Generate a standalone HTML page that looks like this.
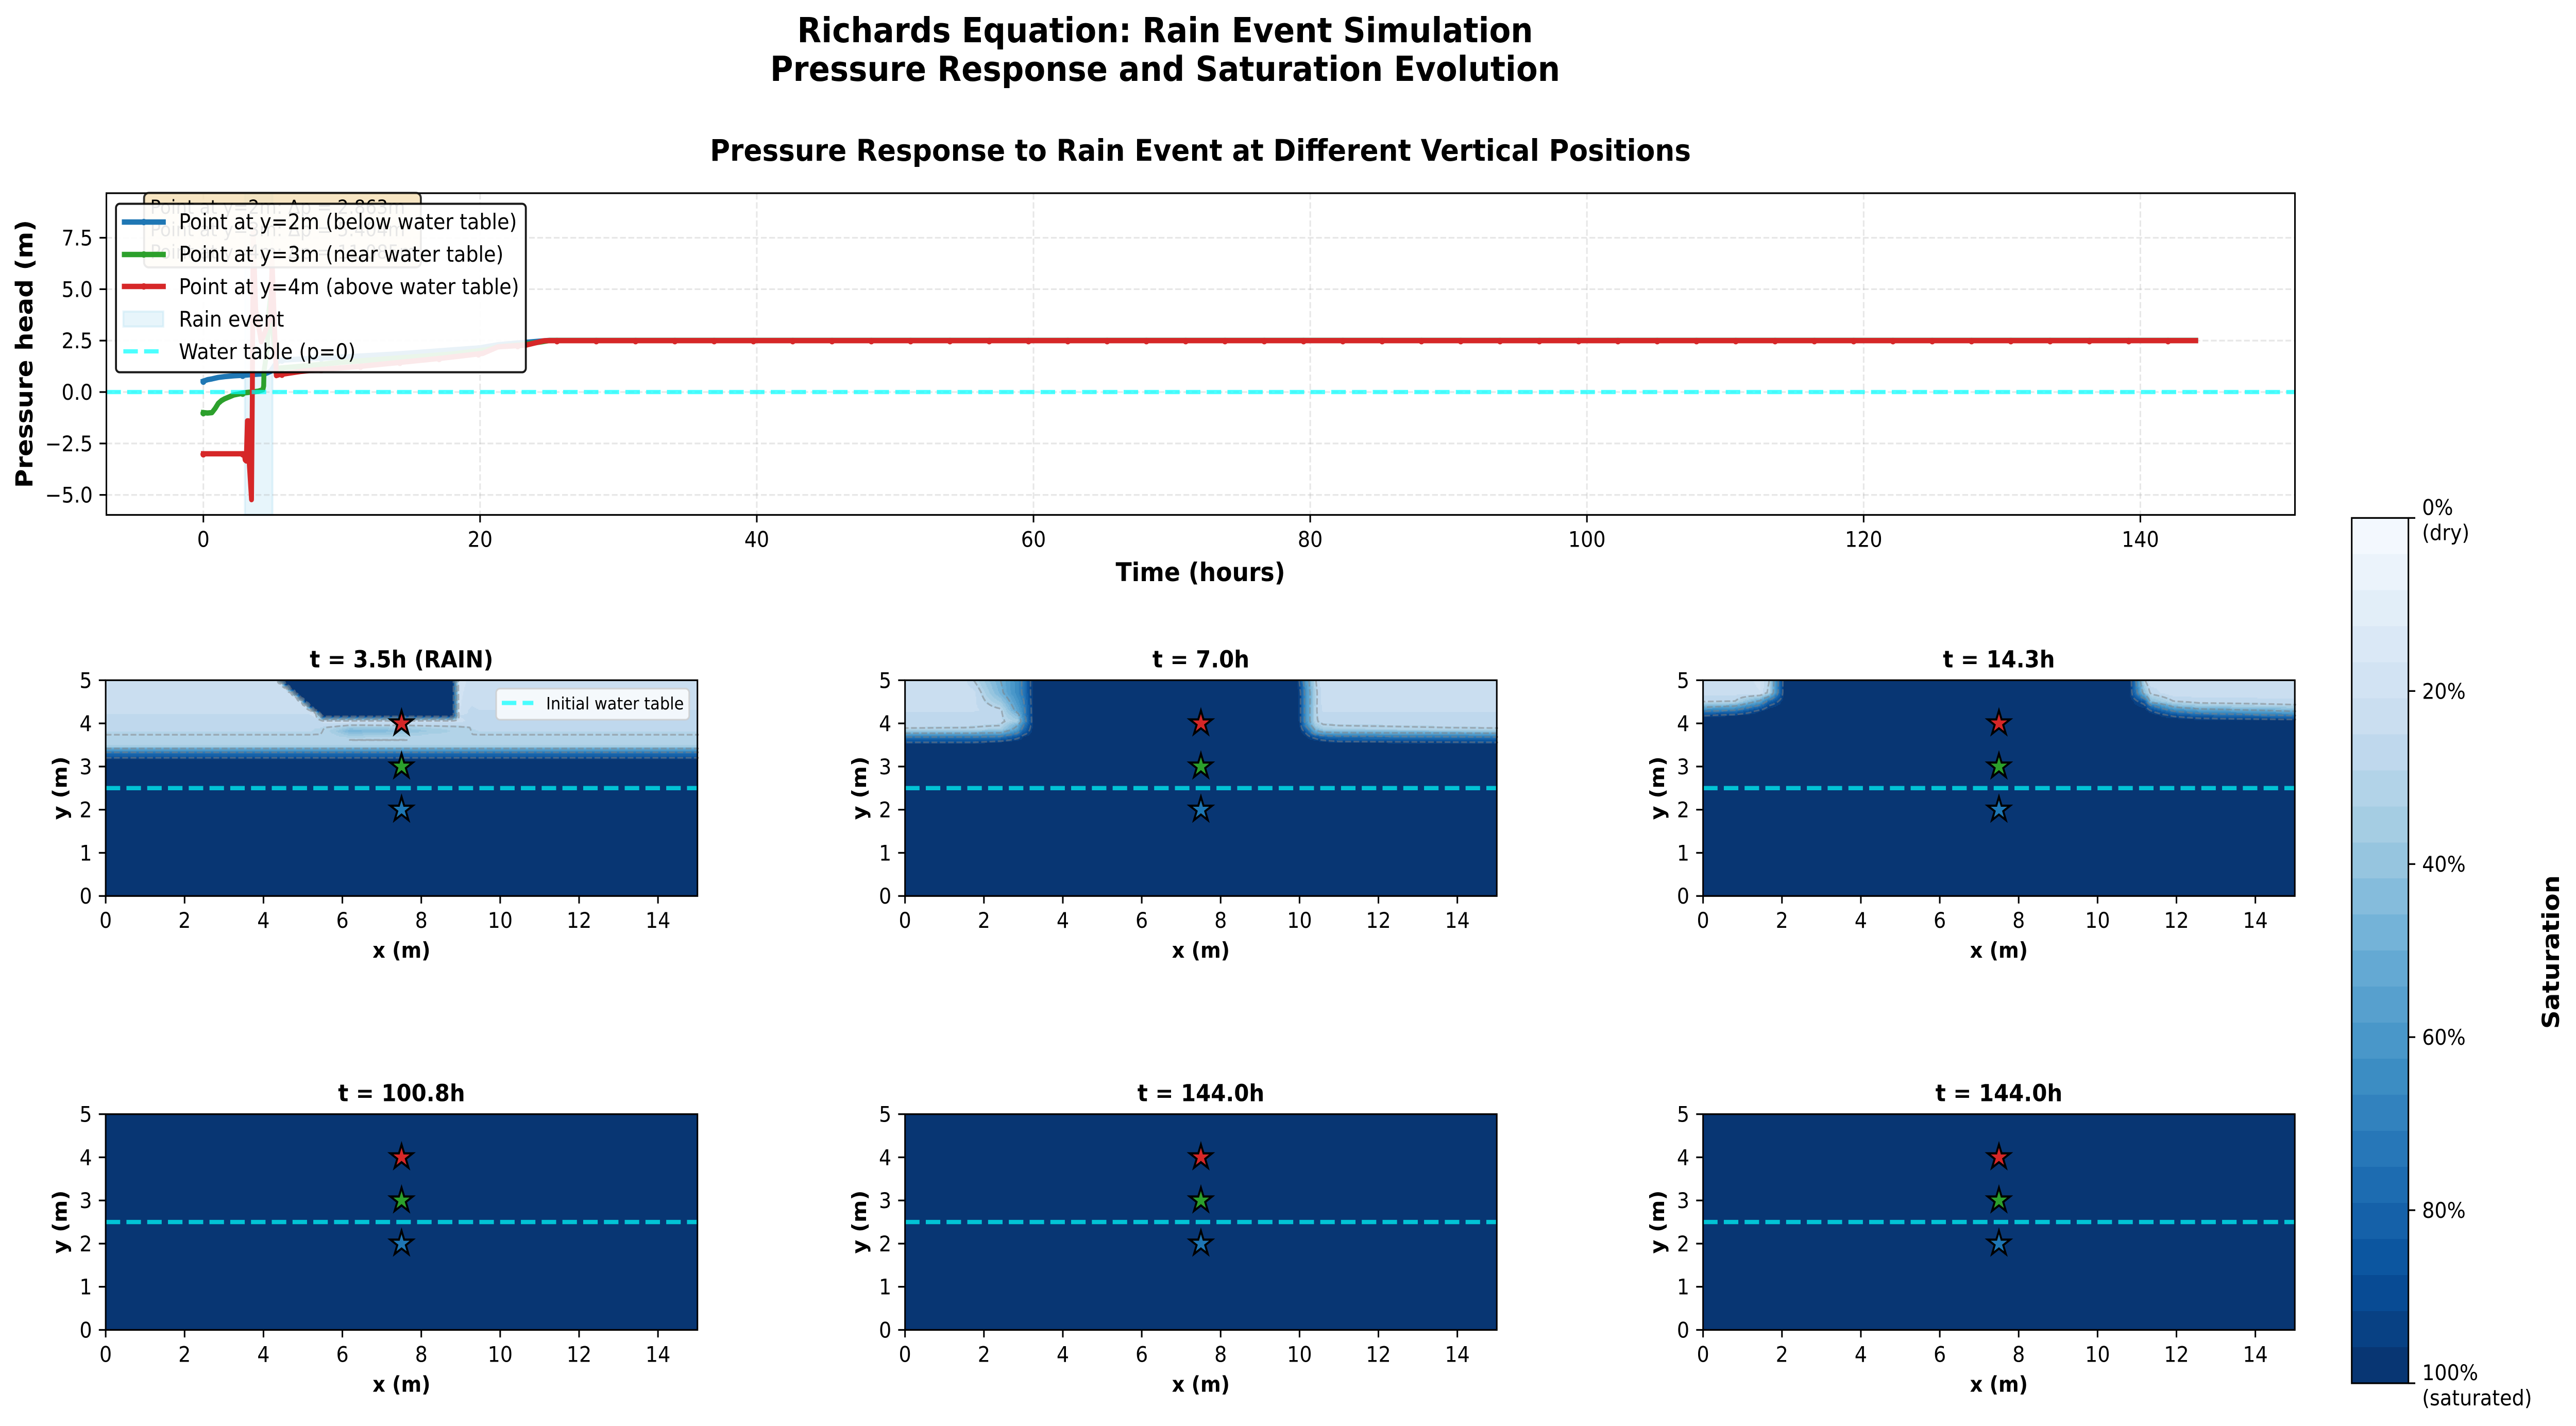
<!DOCTYPE html>
<html lang="en">
<head>
<meta charset="utf-8">
<meta name="viewport" content="width=5472, initial-scale=1">
<title>Richards Equation: Rain Event Simulation</title>
<style>
html,body{margin:0;padding:0;background:#fff;overflow:hidden;width:100%;height:100%;}
svg#fig{display:block;position:absolute;left:0;top:0;width:min(100vw,5472px);height:min(100vh,2768px);overflow:hidden;}
text{font-family:"DejaVu Sans","Liberation Sans",sans-serif;fill:#000;}
.b{font-weight:bold;}
</style>
</head>
<body>
<svg id="fig" xmlns="http://www.w3.org/2000/svg" viewBox="0 0 5472 2768" preserveAspectRatio="none">
  <rect x="0" y="0" width="5472" height="2768" fill="#fff"/>
  <text class="b" x="2475" y="82" font-size="66.67" text-anchor="middle">Richards Equation: Rain Event Simulation</text>
  <text class="b" x="2475" y="157" font-size="66.67" text-anchor="middle">Pressure Response and Saturation Evolution</text>
  <text class="b" x="2550" y="312" font-size="58.33" text-anchor="middle">Pressure Response to Rain Event at Different Vertical Positions</text>

  <g id="pressure-marks"></g>

  <g>
    <rect x="306" y="374.5" width="588" height="144.5" rx="10" ry="10" fill="#f5deb3" fill-opacity="0.8" stroke="#000" stroke-opacity="0.8" stroke-width="4.17"/>
    <text x="319" y="415" font-size="37.5">Point at y=2m: Δp = 2.863m</text>
    <text x="319" y="458.5" font-size="37.5">Point at y=3m: Δp = 5.404m</text>
    <text x="319" y="502" font-size="37.5">Point at y=4m: Δp = 11.085m</text>
  </g>

  <g>
    <rect x="246.4" y="395.6" width="870.6" height="327" rx="8" ry="8" fill="#fff" fill-opacity="0.9" stroke="#000" stroke-opacity="0.9" stroke-width="4.17"/>
    <line x1="264" x2="347" y1="431" y2="431" stroke="#1f77b4" stroke-width="10.4" stroke-linecap="square"/>
    <circle cx="305.5" cy="431" r="6.25" fill="#1f77b4"/>
    <text x="380" y="445" font-size="41.67">Point at y=2m (below water table)</text>
    <line x1="264" x2="347" y1="494" y2="494" stroke="#2ca02c" stroke-width="10.4" stroke-linecap="square"/>
    <circle cx="305.5" cy="494" r="6.25" fill="#2ca02c"/>
    <text x="380" y="508" font-size="41.67">Point at y=3m (near water table)</text>
    <line x1="264" x2="347" y1="556" y2="556" stroke="#d62728" stroke-width="10.4" stroke-linecap="square"/>
    <circle cx="305.5" cy="556" r="6.25" fill="#d62728"/>
    <text x="380" y="571" font-size="41.67">Point at y=4m (above water table)</text>
    <rect x="262" y="604.6" width="85" height="29.4" fill="#87ceeb" fill-opacity="0.2" stroke="#87ceeb" stroke-opacity="0.2" stroke-width="4.17"/>
    <text x="380" y="634" font-size="41.67">Rain event</text>
    <line x1="262" x2="338" y1="682" y2="682" stroke="#00ffff" stroke-opacity="0.7" stroke-width="8.33" stroke-dasharray="30.8 13.3"/>
    <text x="380" y="697" font-size="41.67">Water table (p=0)</text>
  </g>

  <text class="b" x="2550" y="1128" font-size="50" text-anchor="middle">Time (hours)</text>
  <text class="b" transform="translate(69,687) rotate(-90)" font-size="50" text-anchor="middle">Pressure head (m)</text>

  <g id="panels"></g>

  <g>
    <rect x="1054" y="1336.7" width="410" height="60.3" rx="8" ry="8" fill="#fff" fill-opacity="0.8" stroke="#ccc" stroke-opacity="0.8" stroke-width="3.33"/>
    <line x1="1066" x2="1133" y1="1364.5" y2="1364.5" stroke="#00ffff" stroke-opacity="0.7" stroke-width="8.33" stroke-dasharray="30.8 13.3"/>
    <text x="1160" y="1377" font-size="33.33">Initial water table</text>
  </g>

  <g id="colorbar"></g>
  <text class="b" transform="translate(5436,1848) rotate(-90)" font-size="50" text-anchor="middle">Saturation</text>
</svg>

<script>
/* ---------- pressure chart data ---------- */
const timeY2 = [0,0.3,0.62,1.08,1.53,2.2,2.95,3.5,4.2,4.5,4.85,5.3,5.6,7,10,14,17,20,21.3,23,24.8,25,40,60,80,100,120,144];
const pressureY2 = [0.53,0.6,0.64,0.71,0.75,0.79,0.82,0.85,0.88,0.9,1.0,1.45,1.55,1.6,1.7,1.85,2.0,2.15,2.3,2.4,2.5,2.51,2.51,2.51,2.51,2.51,2.51,2.51];

const timeY3 = [0,0.3,0.62,0.85,1.08,1.3,1.53,2.2,2.95,3.97,4.3,4.36,4.38,4.6,4.75,4.85,5.0,5.3,7,10,14,18,20.5,21.3,23,24.5,25,40,60,80,100,120,144];
const pressureY3 = [-1.0,-1.02,-1.0,-0.8,-0.55,-0.42,-0.33,-0.14,-0.04,0.04,0.11,0.3,1.0,2.0,4.0,4.6,3.0,1.15,1.25,1.45,1.65,1.85,2.05,2.2,2.3,2.45,2.505,2.505,2.505,2.505,2.505,2.505,2.505];

const timeY4 = [0,1,2,2.95,3.02,3.1,3.18,3.26,3.3,3.48,3.54,3.6,3.78,4.18,4.85,4.97,5.1,5.27,5.5,7,8,11.35,17.3,20.2,21.3,23.3,24.6,25,40,60,80,100,120,144];
const pressureY4 = [-3,-3,-3,-3,-3.3,-3.35,-1.4,-1.4,-3.3,-5.23,0,8,4.03,2.45,3.6,6.37,4,0.8,0.85,1.0,1.07,1.25,1.65,1.88,2.2,2.28,2.49,2.5,2.5,2.5,2.5,2.5,2.5,2.5];

const timeTicks = [0,20,40,60,80,100,120,140];
const timeTickLabels = ['0','20','40','60','80','100','120','140'];
const pressureTicks = [-5,-2.5,0,2.5,5,7.5];
const pressureTickLabels = ['\u22125.0','\u22122.5','0.0','2.5','5.0','7.5'];
const rainStart = 3;
const rainEnd = 5;
const waterTablePressure = 0;
const markerEveryHours = 2.84;

/* ---------- saturation panels data ---------- */
const panelTitles = ['t = 3.5h (RAIN)','t = 7.0h','t = 14.3h','t = 100.8h','t = 144.0h','t = 144.0h'];
const panelXTicks = [0,2,4,6,8,10,12,14];
const panelYTicks = [0,1,2,3,4,5];
const initialWaterTable = 2.5;
const monitorX = 7.5;
const monitorY = [2,3,4];
const contourLevels = [0.3,0.5,0.7,0.9];

const field1X = [0,4.0,4.34,4.46,4.58,4.70,4.83,4.95,5.07,5.19,5.31,5.44,5.5,5.8,6.2,7.6,8.2,8.8,8.96,9.2,9.3,9.5,15];
const field1Y = [5,4.9,4.8,4.7,4.6,4.5,4.4,4.3,4.25,4.17,4.05,3.97,3.9,3.82,3.74,3.63,3.46,3.42,3.33,3.2,3.15,0];
const field1S = [
[.23,.23,.2,1,1,1,1,1,1,1,1,1,1,1,1,1,1,1,.18,.22,.23,.23,.23],
[.23,.23,.23,.2,1,1,1,1,1,1,1,1,1,1,1,1,1,1,.18,.22,.24,.23,.23],
[.23,.23,.23,.23,.2,1,1,1,1,1,1,1,1,1,1,1,1,1,.18,.23,.24,.23,.23],
[.23,.23,.23,.23,.23,.2,1,1,1,1,1,1,1,1,1,1,1,1,.19,.23,.24,.23,.23],
[.23,.23,.23,.23,.23,.23,.2,1,1,1,1,1,1,1,1,1,1,1,.19,.24,.25,.23,.23],
[.23,.23,.23,.23,.23,.23,.23,.2,1,1,1,1,1,1,1,1,1,1,.2,.24,.25,.23,.23],
[.23,.23,.23,.23,.23,.23,.23,.23,.2,1,1,1,1,1,1,1,1,1,.2,.24,.25,.24,.24],
[.24,.24,.24,.24,.24,.24,.24,.24,.24,.2,1,1,1,1,1,1,1,1,.2,.25,.26,.25,.25],
[.24,.24,.24,.24,.24,.24,.24,.24,.24,.23,.22,1,1,1,1,1,1,1,.2,.25,.26,.25,.25],
[.27,.27,.27,.27,.27,.27,.27,.27,.27,.26,.24,.45,1,1,1,1,1,1,.25,.27,.27,.27,.27],
[.27,.27,.27,.27,.27,.27,.27,.27,.27,.27,.26,.25,.23,.22,.22,.22,.22,.22,.23,.26,.27,.27,.27],
[.28,.28,.28,.28,.28,.28,.28,.28,.28,.28,.28,.28,.27,.26,.28,.28,.28,.28,.28,.27,.28,.28,.28],
[.285,.285,.285,.285,.285,.285,.285,.285,.285,.285,.29,.29,.295,.32,.38,.36,.33,.315,.31,.305,.29,.285,.285],
[.29,.29,.29,.29,.29,.29,.29,.29,.29,.29,.295,.295,.30,.36,.47,.42,.37,.33,.32,.31,.295,.29,.29],
[.30,.30,.30,.30,.30,.30,.30,.30,.30,.30,.30,.30,.305,.33,.40,.36,.33,.32,.31,.305,.30,.30,.30],
[.31,.31,.31,.31,.31,.31,.31,.31,.31,.31,.31,.31,.31,.31,.295,.295,.31,.31,.31,.31,.31,.31,.31],
[.34,.34,.34,.34,.34,.34,.34,.34,.34,.34,.34,.34,.34,.34,.34,.34,.34,.34,.34,.34,.34,.34,.34],
[.5,.5,.5,.5,.5,.5,.5,.5,.5,.5,.5,.5,.5,.5,.5,.5,.5,.5,.5,.5,.5,.5,.5],
[.7,.7,.7,.7,.7,.7,.7,.7,.7,.7,.7,.7,.7,.7,.7,.7,.7,.7,.7,.7,.7,.7,.7],
[.9,.9,.9,.9,.9,.9,.9,.9,.9,.9,.9,.9,.9,.9,.9,.9,.9,.9,.9,.9,.9,.9,.9],
[1,1,1,1,1,1,1,1,1,1,1,1,1,1,1,1,1,1,1,1,1,1,1],
[1,1,1,1,1,1,1,1,1,1,1,1,1,1,1,1,1,1,1,1,1,1,1]
];

const field2X = [0,1.5,1.74,2.42,2.85,3.0,3.28,3.4,9.9,10.0,10.15,10.41,10.6,11,15];
const field2Y = [5,4.7,4.3,4.2,4.05,3.95,3.87,3.77,3.69,3.56,3.5,0];
const field2S = [
[.23,.23,.30,.50,.65,.72,1,1,1,.9,.6,.30,.22,.23,.23],
[.23,.23,.23,.47,.65,.72,1,1,1,.95,.65,.32,.22,.23,.23],
[.24,.24,.24,.28,.55,.65,1,1,1,.95,.65,.31,.24,.24,.24],
[.27,.27,.27,.28,.45,.65,1,1,1,.95,.65,.31,.26,.27,.27],
[.27,.27,.27,.28,.35,.60,1,1,1,.95,.65,.31,.27,.27,.27],
[.28,.285,.29,.30,.50,.70,1,1,1,.97,.7,.36,.31,.30,.28],
[.30,.31,.31,.34,.55,.75,1,1,1,.98,.8,.45,.36,.33,.30],
[.50,.50,.50,.52,.70,.85,1,1,1,1,.92,.6,.55,.53,.50],
[.70,.70,.70,.72,.85,.95,1,1,1,1,.97,.85,.78,.74,.70],
[.90,.90,.90,.95,1,1,1,1,1,1,1,1,.97,.93,.90],
[1,1,1,1,1,1,1,1,1,1,1,1,1,1,1],
[1,1,1,1,1,1,1,1,1,1,1,1,1,1,1]
];

const field3X = [0,0.8,1.45,1.68,2.08,10.8,11.2,11.35,11.95,12.6,15];
const field3Y = [5,4.7,4.5,4.4,4.28,4.18,4.1,4.04,0];
const field3S = [
[.23,.23,.20,.30,1,1,.30,.22,.23,.23,.23],
[.23,.23,.21,.33,1,1,.42,.28,.21,.23,.23],
[.29,.30,.55,.80,1,1,.85,.45,.30,.27,.26],
[.45,.50,.75,.92,1,1,.93,.75,.45,.38,.32],
[.70,.75,.95,1,1,1,1,.92,.70,.60,.50],
[.90,.95,1,1,1,1,1,1,.88,.80,.70],
[1,1,1,1,1,1,1,1,.97,.93,.88],
[1,1,1,1,1,1,1,1,1,1,1],
[1,1,1,1,1,1,1,1,1,1,1]
];

const field4X = [0,15];
const field4Y = [5,0];
const field4S = [[1,1],[1,1]];
const field5X = [0,15];
const field5Y = [5,0];
const field5S = [[1,1],[1,1]];
const field6X = [0,15];
const field6Y = [5,0];
const field6S = [[1,1],[1,1]];

/* ---------- colorbar data ---------- */
const bandCount = 24;
const colorbarTicks = [0,0.2,0.4,0.6,0.8,1];
const colorbarTickLabels = [['0%','(dry)'],['20%'],['40%'],['60%'],['80%'],['100%','(saturated)']];
const bluesAnchors = [[247,251,255],[222,235,247],[198,219,239],[158,202,225],[107,174,214],[66,146,198],[33,113,181],[8,81,156],[8,48,107]];

/* ---------- helpers ---------- */
const NS = 'http://www.w3.org/2000/svg';
function mk(tag, attrs, parent) {
  const n = document.createElementNS(NS, tag);
  for (const k in attrs) n.setAttribute(k, attrs[k]);
  parent.appendChild(n);
  return n;
}
function blues(t) {
  const p = Math.min(0.999999, Math.max(0, t)) * 8;
  const i = Math.floor(p), f = p - i;
  const a = bluesAnchors[i], b = bluesAnchors[i + 1];
  return 'rgb(' + [0,1,2].map(c => Math.round(a[c] + (b[c] - a[c]) * f)).join(',') + ')';
}
function bandOf(s) { return Math.max(0, Math.min(bandCount - 1, Math.floor(s * bandCount))); }
function bandColor(i) { return blues((i + 0.5) / bandCount); }

/* ---------- pressure chart ---------- */
const px = h => 432 + 29.39 * h;
const py = p => 761 - 39.93 * p;
const AX = {l: 226, r: 4875, t: 375, b: 999.5};
const pm = document.getElementById('pressure-marks');

const rain = mk('rect', {x: px(rainStart), y: AX.t, width: px(rainEnd) - px(rainStart), height: AX.b - AX.t, fill: '#87ceeb', 'fill-opacity': 0.2, stroke: '#87ceeb', 'stroke-opacity': 0.2, 'stroke-width': 4.17}, pm);



timeTicks.forEach((v, i) => {
  const g = mk('line', {x1: px(v), x2: px(v), y1: AX.t, y2: AX.b, stroke: '#b0b0b0', 'stroke-opacity': 0.3, 'stroke-width': 3.33, 'stroke-dasharray': '12.3 5.3'}, pm);
  
  
});
pressureTicks.forEach((v, i) => {
  const g = mk('line', {x1: AX.l, x2: AX.r, y1: py(v), y2: py(v), stroke: '#b0b0b0', 'stroke-opacity': 0.3, 'stroke-width': 3.33, 'stroke-dasharray': '12.3 5.3'}, pm);
  
  
});

function interp(ts, vs, t) {
  for (let i = 1; i < ts.length; i++) {
    if (t <= ts[i]) return vs[i - 1] + (vs[i] - vs[i - 1]) * (t - ts[i - 1]) / (ts[i] - ts[i - 1]);
  }
  return vs[vs.length - 1];
}
function drawSeries(ts, vs, color, name) {
  const d = ts.map((t, i) => (i ? 'L' : 'M') + px(t).toFixed(2) + ' ' + py(vs[i]).toFixed(2)).join('');
  const line = mk('path', {d: d, fill: 'none', stroke: color, 'stroke-width': 10.4, 'stroke-linejoin': 'round', 'stroke-linecap': 'square'}, pm);
  
  
  const last = ts[ts.length - 1];
  for (let k = 0; k * markerEveryHours <= last; k++) {
    const t = k * markerEveryHours;
    const m = mk('circle', {cx: px(t), cy: py(interp(ts, vs, t)) + 1, r: 6.25, fill: color}, pm);
    
    
  }
}
drawSeries(timeY2, pressureY2, '#1f77b4', 'pressure-y2');
drawSeries(timeY3, pressureY3, '#2ca02c', 'pressure-y3');
drawSeries(timeY4, pressureY4, '#d62728', 'pressure-y4');

const wt = mk('line', {x1: AX.l, x2: AX.r, y1: py(waterTablePressure), y2: py(waterTablePressure), stroke: '#00ffff', 'stroke-opacity': 0.7, 'stroke-width': 8.33, 'stroke-dasharray': '30.8 13.3'}, pm);



const mainFrame = mk('rect', {x: AX.l, y: AX.t, width: AX.r - AX.l, height: AX.b - AX.t, fill: 'none', stroke: '#000', 'stroke-width': 3.33}, pm);



timeTicks.forEach((v, i) => {
  const t = mk('line', {x1: px(v), x2: px(v), y1: AX.b, y2: AX.b + 14.6, stroke: '#000', 'stroke-width': 3.33}, pm);
  
  
  const l = mk('text', {x: px(v), y: AX.b + 62, 'font-size': 41.67, 'text-anchor': 'middle'}, pm);
  
  
  l.textContent = timeTickLabels[i];
});
pressureTicks.forEach((v, i) => {
  const t = mk('line', {x1: AX.l - 14.6, x2: AX.l, y1: py(v), y2: py(v), stroke: '#000', 'stroke-width': 3.33}, pm);
  
  
  const l = mk('text', {x: AX.l - 29, y: py(v) + 15, 'font-size': 41.67, 'text-anchor': 'end'}, pm);
  
  
  l.textContent = pressureTickLabels[i];
});

/* ---------- saturation panels ---------- */
const panelLefts = [224.5, 1922.5, 3617.7, 224.5, 1922.5, 3617.7];
const panelTops = [1320.4, 1320.4, 1320.4, 2162.7, 2162.7, 2162.7];
const PW = 1257, PH = 418.8;
const panelsRoot = document.getElementById('panels');

function segIndexAsc(a, v) {
  let i = 0;
  while (i < a.length - 2 && v > a[i + 1]) i++;
  return i;
}
function segIndexDesc(a, v) {
  let i = 0;
  while (i < a.length - 2 && v < a[i + 1]) i++;
  return i;
}
function sample(X, Y, S, x, y) {
  const i = segIndexAsc(X, x), j = segIndexDesc(Y, y);
  const fx = Math.max(0, Math.min(1, (x - X[i]) / (X[i + 1] - X[i])));
  const fy = Math.max(0, Math.min(1, (Y[j] - y) / (Y[j] - Y[j + 1])));
  const a = S[j][i] + (S[j][i + 1] - S[j][i]) * fx;
  const b = S[j + 1][i] + (S[j + 1][i + 1] - S[j + 1][i]) * fx;
  return a + (b - a) * fy;
}

function drawField(g, X, Y, S, left, top) {
  const step = 2;
  const x0 = Math.floor(left), y0 = Math.floor(top);
  const nx = Math.ceil(PW / step), ny = Math.ceil(PH / step);
  const paths = {};
  for (let r = 0; r < ny; r++) {
    const ym = 5 - (r + 0.5) * step / PH * 5;
    let start = 0, cur = bandOf(sample(X, Y, S, 0.5 * step / PW * 15, ym));
    for (let c = 1; c <= nx; c++) {
      const b = c < nx ? bandOf(sample(X, Y, S, (c + 0.5) * step / PW * 15, ym)) : -1;
      if (b !== cur) {
        paths[cur] = (paths[cur] || '') + 'M' + (x0 + start * step) + ' ' + (y0 + r * step) + 'h' + ((c - start) * step) + 'v' + step + 'h' + (-(c - start) * step) + 'z';
        start = c; cur = b;
      }
    }
  }
  Object.keys(paths).forEach(k => {
    const p = mk('path', {d: paths[k], fill: bandColor(+k), 'shape-rendering': 'crispEdges'}, g);
    
    
  });
}

function drawContours(g, X, Y, S, left, top) {
  const step = 4;
  const nx = Math.ceil(PW / step), ny = Math.ceil(PH / step);
  const val = (c, r) => sample(X, Y, S, Math.min(15, c * step / PW * 15), Math.max(0, 5 - r * step / PH * 5));
  const grid = [];
  for (let r = 0; r <= ny; r++) {
    const row = [];
    for (let c = 0; c <= nx; c++) row.push(val(c, r));
    grid.push(row);
  }
  contourLevels.forEach(level => {
    const pts = {}, adj = {};
    const link = (a, b) => { (adj[a] = adj[a] || []).push(b); (adj[b] = adj[b] || []).push(a); };
    for (let r = 0; r < ny; r++) for (let c = 0; c < nx; c++) {
      const a = grid[r][c], b = grid[r][c + 1], d = grid[r + 1][c], e = grid[r + 1][c + 1];
      const code = (a >= level ? 8 : 0) + (b >= level ? 4 : 0) + (e >= level ? 2 : 0) + (d >= level ? 1 : 0);
      if (code === 0 || code === 15) continue;
      const T = 'h' + r + '_' + c, B = 'h' + (r + 1) + '_' + c, L = 'v' + r + '_' + c, R = 'v' + r + '_' + (c + 1);
      if ((a >= level) !== (b >= level)) pts[T] = [c + (level - a) / (b - a), r];
      if ((d >= level) !== (e >= level)) pts[B] = [c + (level - d) / (e - d), r + 1];
      if ((a >= level) !== (d >= level)) pts[L] = [c, r + (level - a) / (d - a)];
      if ((b >= level) !== (e >= level)) pts[R] = [c + 1, r + (level - b) / (e - b)];
      const table = {1:[[L,B]],2:[[B,R]],3:[[L,R]],4:[[T,R]],5:[[L,T],[B,R]],6:[[T,B]],7:[[L,T]],8:[[L,T]],9:[[T,B]],10:[[T,R],[L,B]],11:[[T,R]],12:[[L,R]],13:[[B,R]],14:[[L,B]]};
      table[code].forEach(s => link(s[0], s[1]));
    }
    const seen = {};
    const walk = startKey => {
      const chain = [startKey];
      seen[startKey] = true;
      let cur = startKey;
      for (;;) {
        const nxt = (adj[cur] || []).find(k => !seen[k]);
        if (!nxt) break;
        seen[nxt] = true;
        chain.push(nxt);
        cur = nxt;
      }
      return chain;
    };
    let d = '';
    const toD = chain => chain.map((k, i) => (i ? 'L' : 'M') + (left + pts[k][0] * step).toFixed(1) + ' ' + (top + pts[k][1] * step).toFixed(1)).join('');
    Object.keys(adj).filter(k => adj[k].length === 1).forEach(k => { if (!seen[k]) d += toD(walk(k)); });
    Object.keys(adj).forEach(k => { if (!seen[k]) d += toD(walk(k)) + 'z'; });
    if (d) {
      const p = mk('path', {d: d, fill: 'none', stroke: '#808080', 'stroke-opacity': 0.5, 'stroke-width': 3.33, 'stroke-dasharray': '12.3 5.3'}, g);
      
      
    }
  });
}

function starPoints(cx, cy, R) {
  const pts = [];
  for (let i = 0; i < 10; i++) {
    const r = i % 2 ? R * 0.381966 : R;
    const a = -Math.PI / 2 + i * Math.PI / 5;
    pts.push((cx + r * Math.cos(a)).toFixed(2) + ',' + (cy + r * Math.sin(a)).toFixed(2));
  }
  return pts.join(' ');
}
const starColors = ['#1f77b4', '#2ca02c', '#d62728'];
const fieldXs = [field1X, field2X, field3X, field4X, field5X, field6X];
const fieldYs = [field1Y, field2Y, field3Y, field4Y, field5Y, field6Y];
const fieldSs = [field1S, field2S, field3S, field4S, field5S, field6S];

panelTitles.forEach((title, idx) => {
  const left = panelLefts[idx], top = panelTops[idx];
  const sx = m => left + m / 15 * PW;
  const sy = m => top + PH - m / 5 * PH;
  const g = mk('g', {}, panelsRoot);
  
  

  drawField(g, fieldXs[idx], fieldYs[idx], fieldSs[idx], left, top);
  drawContours(g, fieldXs[idx], fieldYs[idx], fieldSs[idx], left, top);

  const wl = mk('line', {x1: left, x2: left + PW, y1: sy(initialWaterTable), y2: sy(initialWaterTable), stroke: '#00ffff', 'stroke-opacity': 0.7, 'stroke-width': 8.33, 'stroke-dasharray': '30.8 13.3'}, g);
  
  

  monitorY.forEach((my, i) => {
    const s = mk('polygon', {points: starPoints(sx(monitorX), sy(my), 25), fill: starColors[i], stroke: '#000', 'stroke-width': 4.17, 'stroke-linejoin': 'miter', 'stroke-miterlimit': 10}, g);
    
    
  });

  const frame = mk('rect', {x: left, y: top, width: PW, height: PH, fill: 'none', stroke: '#000', 'stroke-width': 3.33}, g);
  
  

  panelXTicks.forEach(v => {
    const t = mk('line', {x1: sx(v), x2: sx(v), y1: top + PH, y2: top + PH + 14.6, stroke: '#000', 'stroke-width': 3.33}, g);
    
    
    const l = mk('text', {x: sx(v), y: top + PH + 62, 'font-size': 41.67, 'text-anchor': 'middle'}, g);
    
    
    l.textContent = String(v);
  });
  panelYTicks.forEach(v => {
    const t = mk('line', {x1: left - 14.6, x2: left, y1: sy(v), y2: sy(v), stroke: '#000', 'stroke-width': 3.33}, g);
    
    
    const l = mk('text', {x: left - 29, y: sy(v) + 15, 'font-size': 41.67, 'text-anchor': 'end'}, g);
    
    
    l.textContent = String(v);
  });

  const tt = mk('text', {x: left + PW / 2, y: top - 25, 'font-size': 45.83, 'font-weight': 'bold', 'text-anchor': 'middle'}, g);
  
  
  tt.textContent = title;

  const xl = mk('text', {x: left + PW / 2, y: top + PH + 120, 'font-size': 41.67, 'font-weight': 'bold', 'text-anchor': 'middle'}, g);
  
  
  xl.textContent = 'x (m)';

  const yl = mk('text', {transform: 'translate(' + (left - 83) + ',' + (top + PH / 2) + ') rotate(-90)', 'font-size': 41.67, 'font-weight': 'bold', 'text-anchor': 'middle'}, g);
  
  
  yl.textContent = 'y (m)';
});

/* ---------- colorbar ---------- */
const CB = {l: 4995.6, r: 5116, t: 1005.4, b: 2685};
const cbRoot = document.getElementById('colorbar');
const cy = v => CB.t + v * (CB.b - CB.t);
for (let i = 0; i < bandCount; i++) {
  const b = mk('rect', {x: CB.l, y: cy(i / bandCount), width: CB.r - CB.l, height: (CB.b - CB.t) / bandCount + 0.5, fill: bandColor(i), 'shape-rendering': 'crispEdges'}, cbRoot);
  
  
}
const cbFrame = mk('rect', {x: CB.l, y: CB.t, width: CB.r - CB.l, height: CB.b - CB.t, fill: 'none', stroke: '#000', 'stroke-width': 3.33}, cbRoot);


colorbarTicks.forEach((v, i) => {
  const t = mk('line', {x1: CB.r, x2: CB.r + 14.6, y1: cy(v), y2: cy(v), stroke: '#000', 'stroke-width': 3.33}, cbRoot);
  
  
  const lines = colorbarTickLabels[i];
  lines.forEach((txt, j) => {
    const base = lines.length === 1 ? cy(v) + 15 : cy(v) - 6 + j * 49;
    const l = mk('text', {x: CB.r + 29, y: base, 'font-size': 41.67}, cbRoot);
    
    
    l.textContent = txt;
  });
});
</script>
</body>
</html>
